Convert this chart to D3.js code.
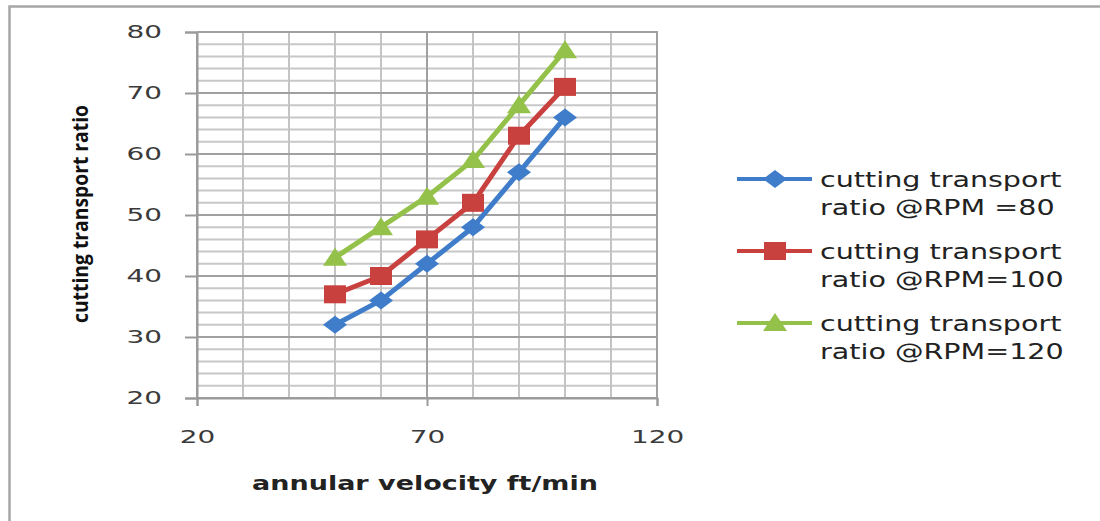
<!DOCTYPE html>
<html>
<head>
<meta charset="utf-8">
<script src="https://cdn.jsdelivr.net/npm/d3@7"></script>
<style>
  body { margin: 0; background: #fff; }
  svg { display: block; }
</style>
</head>
<body>
<div id="chart"></div>
<script>
// data
const velocity = [50, 60, 70, 80, 90, 100];
const rpm80 = [32, 36, 42, 48, 57, 66];
const rpm100 = [37, 40, 46, 52, 63, 71];
const rpm120 = [43, 48, 53, 59, 68, 77];
const seriesNames = [
  ['cutting transport', 'ratio @RPM =80'],
  ['cutting transport', 'ratio @RPM=100'],
  ['cutting transport', 'ratio @RPM=120']
];
const xTicks = [20, 70, 120];
const yTicks = [20, 30, 40, 50, 60, 70, 80];

const width = 1100, height = 521;
const margin = { top: 32, left: 197, right: 443, bottom: 123 };
const innerW = width - margin.left - margin.right;
const innerH = height - margin.top - margin.bottom;

const colors = ['#3f7dcb', '#c9413f', '#94c14a'];
const shapes = ['diamond', 'square', 'triangle'];

const series = [rpm80, rpm100, rpm120].map((vals, i) => ({
  name: seriesNames[i],
  color: colors[i],
  shape: shapes[i],
  points: vals.map((v, j) => ({ x: velocity[j], y: v }))
}));

// the picture is stretched sideways, so the glyphs are too
function stretch(sel, k) {
  sel.each(function () {
    const w = this.getComputedTextLength();
    d3.select(this)
      .attr('textLength', w * k)
      .attr('lengthAdjust', 'spacingAndGlyphs');
  });
}

const svg = d3.select('#chart').append('svg')
  .attr('width', width)
  .attr('height', height);

// outer frame (only top and left edges visible in the picture)
svg.append('path')
  .attr('d', `M9.5,${height} V6.5 H${width}`)
  .attr('fill', 'none')
  .attr('stroke', '#a6a6a6')
  .attr('stroke-width', 2.5);

const x = d3.scaleLinear().domain([20, 120]).range([0, innerW]);
const y = d3.scaleLinear().domain([20, 80]).range([innerH, 0]);

const mg = svg.append('g')
  .attr('transform', `translate(${margin.left},${margin.top})`);

// grid
const grid = mg.append('g');
grid.selectAll('.hminor')
  .data(d3.range(20, 81, 2).filter(d => d % 10 !== 0))
  .join('line')
  .attr('x1', 0).attr('x2', innerW)
  .attr('y1', d => y(d)).attr('y2', d => y(d))
  .attr('stroke', '#c8c8c8').attr('stroke-width', 2);
grid.selectAll('.vminor')
  .data(d3.range(20, 121, 10).filter(d => !xTicks.includes(d)))
  .join('line')
  .attr('x1', d => x(d)).attr('x2', d => x(d))
  .attr('y1', 0).attr('y2', innerH)
  .attr('stroke', '#c4c4c4').attr('stroke-width', 2);
grid.selectAll('.hmajor')
  .data(yTicks)
  .join('line')
  .attr('x1', 0).attr('x2', innerW)
  .attr('y1', d => y(d)).attr('y2', d => y(d))
  .attr('stroke', '#a0a0a0').attr('stroke-width', 2);
grid.selectAll('.vmajor')
  .data(xTicks)
  .join('line')
  .attr('x1', d => x(d)).attr('x2', d => x(d))
  .attr('y1', 0).attr('y2', innerH)
  .attr('stroke', '#a0a0a0').attr('stroke-width', 2);

// axes
const yAxis = mg.append('g')
  .call(d3.axisLeft(y).tickValues(yTicks).tickSize(12).tickPadding(23));
const xAxis = mg.append('g')
  .attr('transform', `translate(0,${innerH})`)
  .call(d3.axisBottom(x).tickValues(xTicks).tickSize(8).tickPadding(24));

[xAxis, yAxis].forEach(g => {
  g.select('.domain').attr('stroke', '#9a9a9a').attr('stroke-width', 2);
  g.selectAll('.tick line').attr('stroke', '#9a9a9a').attr('stroke-width', 2);
  g.selectAll('.tick text')
    .attr('fill', '#3a3a3a')
    .style('font-family', '"DejaVu Sans", Verdana, sans-serif')
    .style('font-size', '18px')
    .call(stretch, 1.55);
});
// plot frame right edge and top
mg.append('path')
  .attr('d', `M0,0 H${innerW} V${innerH}`)
  .attr('fill', 'none')
  .attr('stroke', '#a0a0a0')
  .attr('stroke-width', 2);

// marker paths
function markerPath(shape) {
  if (shape === 'diamond') return 'M0,-9 L12,0 L0,9 L-12,0 Z';
  if (shape === 'square') return 'M-11,-9 H11 V9 H-11 Z';
  return 'M0,-10 L12,8 L-12,8 Z';
}

const line = d3.line().x(d => x(d.x)).y(d => y(d.y));

series.forEach(s => {
  mg.append('path')
    .datum(s.points)
    .attr('d', line)
    .attr('fill', 'none')
    .attr('stroke', s.color)
    .attr('stroke-width', 5)
    .attr('stroke-linejoin', 'round');
  mg.append('g').selectAll('path')
    .data(s.points)
    .join('path')
    .attr('transform', d => `translate(${x(d.x)},${y(d.y)})`)
    .attr('d', markerPath(s.shape))
    .attr('fill', s.color);
});

// axis titles
svg.append('text')
  .attr('x', 425).attr('y', 490)
  .attr('text-anchor', 'middle')
  .attr('fill', '#222')
  .style('font-family', '"DejaVu Sans", Verdana, sans-serif')
  .style('font-weight', 'bold')
  .style('font-size', '19px')
  .text('annular velocity ft/min')
  .call(stretch, 1.42);

svg.append('text')
  .attr('transform', 'translate(88,214) rotate(-90)')
  .attr('text-anchor', 'middle')
  .attr('fill', '#111')
  .attr('textLength', 218)
  .attr('lengthAdjust', 'spacingAndGlyphs')
  .style('font-family', '"Open Sans", "Noto Sans", sans-serif')
  .style('font-weight', 'bold')
  .style('font-size', '22px')
  .text('cutting transport ratio');

// legend
const legend = svg.append('g').attr('transform', 'translate(737,179)');
const entry = legend.selectAll('g')
  .data(series)
  .join('g')
  .attr('transform', (d, i) => `translate(0,${i * 72})`);
entry.append('line')
  .attr('x1', 0).attr('x2', 75)
  .attr('stroke', d => d.color)
  .attr('stroke-width', 4);
entry.append('path')
  .attr('transform', 'translate(38,0)')
  .attr('d', d => markerPath(d.shape))
  .attr('fill', d => d.color);
entry.append('text')
  .attr('fill', '#222')
  .style('font-family', '"DejaVu Sans", Verdana, sans-serif')
  .style('font-size', '21px')
  .selectAll('tspan')
  .data(d => d.name)
  .join('tspan')
  .attr('x', 83)
  .attr('y', (d, i) => 8 + i * 28)
  .text(d => d)
  .call(stretch, 1.36);
</script>
</body>
</html>
